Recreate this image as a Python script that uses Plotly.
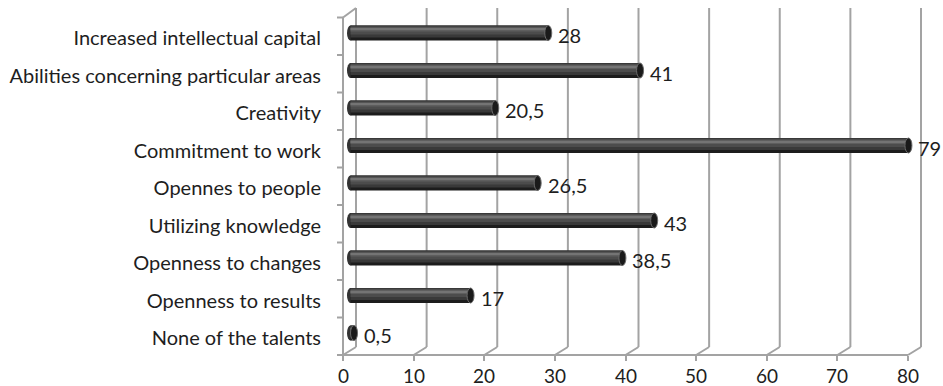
import plotly.graph_objects as go

# ---------------- data ----------------
categories = [
    "Increased intellectual capital",
    "Abilities concerning particular areas",
    "Creativity",
    "Commitment to work",
    "Opennes to people",
    "Utilizing knowledge",
    "Openness to changes",
    "Openness to results",
    "None of the talents",
]
values = [28, 41, 20.5, 79, 26.5, 43, 38.5, 17, 0.5]
x_ticks = [0, 10, 20, 30, 40, 50, 60, 70, 80]

# ---------------- layout constants (pixels) ----------------
W, H = 943, 386
L, R = 330, 933          # plot domain, x
T, B = 8, 355            # plot domain, y (top, bottom)
X0 = 343                 # pixel of value 0 on the front axis
PX = 565 / 80            # pixels per unit
DX, DY = 13, 8           # 3D depth offset
BAR_SHIFT = 7.5          # bars sit mid-depth
ROW = 37.5               # row height
BAR_C0 = 333             # pixel centre of bottom bar
LABEL_DROP = 5           # category labels slightly below bar centre
FONT = "Lato"
TXT = "#1e1e1e"
GRID = "#a3a3a3"

n = len(categories)
pos = [n - 1 - k for k in range(n)]      # top category drawn highest

def py(p):               # pixel y -> paper y
    return (B - p) / (B - T)

ux = 1 / PX              # one pixel in x units
uy = 1 / ROW             # one pixel in y units

fig = go.Figure()

# bar body built from stacked bands to imitate a cylinder
bar_h = 15
bands = [(0, 15, "#1c1c1c"), (0, 12, "#393939"), (1, 9, "#4c4c4c"),
         (2, 6, "#5e5e5e"), (3, 4.5, "#747474")]
for t0, t1, col in bands:
    fig.add_trace(go.Bar(
        x=values, y=pos, orientation="h", base=0,
        width=(t1 - t0) * uy, offset=(bar_h / 2 - t1) * uy,
        marker=dict(color=col, line=dict(width=0)),
        xaxis="x2", yaxis="y", showlegend=False, hoverinfo="skip",
    ))

shapes = []
# back-wall gridlines and floor diagonals
for v in x_ticks:
    shapes.append(dict(type="line", xref="x", yref="paper", layer="below",
                       x0=v + DX * ux, x1=v + DX * ux, y0=py(T), y1=py(B - DY),
                       line=dict(color=GRID, width=2)))
    shapes.append(dict(type="line", xref="x", yref="paper", layer="below",
                       x0=v + DX * ux, x1=v, y0=py(B - DY), y1=py(B),
                       line=dict(color=GRID, width=2)))
# front floor axis
shapes.append(dict(type="line", xref="x", yref="paper", layer="below",
                   x0=x_ticks[0], x1=x_ticks[-1], y0=0, y1=0,
                   line=dict(color=GRID, width=2)))
# front left axis + top slant
top_front = B - ROW * n
shapes.append(dict(type="line", xref="x", yref="paper", layer="below",
                   x0=0, x1=0, y0=0, y1=py(top_front),
                   line=dict(color=GRID, width=2)))
shapes.append(dict(type="line", xref="x", yref="paper", layer="below",
                   x0=0, x1=DX * ux, y0=py(top_front), y1=py(T),
                   line=dict(color=GRID, width=2)))
# left tick marks at row boundaries
for k in range(n + 1):
    yy = py(B - ROW * k)
    shapes.append(dict(type="line", xref="x", yref="paper", layer="below",
                       x0=-6 * ux, x1=0, y0=yy, y1=yy,
                       line=dict(color=GRID, width=2)))

cap_w = 3.5 * ux
half = bar_h / 2 * uy
# left caps (behind bars)
for v, p in zip(values, pos):
    shapes.append(dict(type="circle", xref="x2", yref="y", layer="below",
                       x0=-cap_w, x1=cap_w, y0=p - half, y1=p + half,
                       fillcolor="#333333", line=dict(width=0)))
# right caps (on top of bars)
for v, p in zip(values, pos):
    shapes.append(dict(type="circle", xref="x2", yref="y", layer="above",
                       x0=v - cap_w, x1=v + cap_w, y0=p - half, y1=p + half,
                       fillcolor="#1a1a1a", line=dict(color="#6a6a6a", width=1)))

def fmt(v):
    s = ("%g" % v)
    return s.replace(".", ",")

annotations = []
for v, p in zip(values, pos):
    annotations.append(dict(xref="x2", yref="y", x=v, y=p, text=fmt(v),
                            xanchor="left", yanchor="middle", showarrow=False,
                            xshift=8, yshift=-2,
                            font=dict(family=FONT, size=20, color=TXT)))
# x tick labels
for v in x_ticks:
    annotations.append(dict(xref="x", yref="paper", x=v, y=0, text=str(v),
                            xanchor="center", yanchor="top", showarrow=False,
                            yshift=-7,
                            font=dict(family=FONT, size=19, color=TXT)))

fig.update_layout(
    width=W, height=H,
    margin=dict(l=L, r=W - R, t=T, b=H - B, pad=0, autoexpand=False),
    paper_bgcolor="white", plot_bgcolor="white",
    barmode="overlay", showlegend=False,
    shapes=shapes, annotations=annotations,
    xaxis=dict(range=[(L - X0) * ux, (R - X0) * ux], tickvals=x_ticks,
               ticks="outside", ticklen=5, tickwidth=2, tickcolor=GRID,
               showticklabels=False, automargin=False,
               showgrid=False, zeroline=False, showline=False),
    xaxis2=dict(range=[(L - X0 - BAR_SHIFT) * ux, (R - X0 - BAR_SHIFT) * ux],
                overlaying="x", visible=False, automargin=False),
    yaxis=dict(range=[(BAR_C0 - B) * uy, (BAR_C0 - T) * uy],
               tickvals=[p - LABEL_DROP * uy for p in pos], ticktext=categories,
               ticks="", showgrid=False, zeroline=False, showline=False,
               ticklabelstandoff=8, automargin=False,
               tickfont=dict(family=FONT, size=20, color=TXT)),
)

fig.write_html("out.html")
